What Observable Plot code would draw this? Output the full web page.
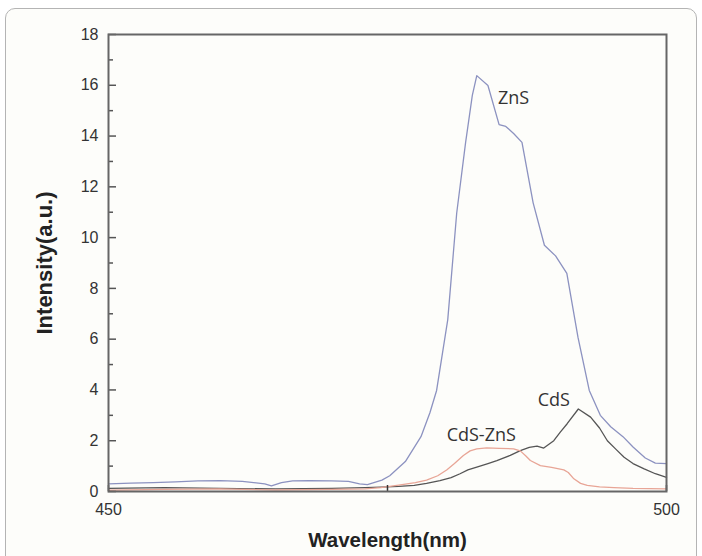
<!DOCTYPE html>
<html>
<head>
<meta charset="utf-8">
<script src="https://cdn.jsdelivr.net/npm/d3@7"></script>
<script src="https://cdn.jsdelivr.net/npm/@observablehq/plot@0.6"></script>
<style>
  html, body { margin: 0; padding: 0; background: #ffffff; }
  #wrap { position: relative; width: 702px; height: 556px; overflow: hidden; }
  #card { position: absolute; left: 5px; top: 8px; width: 690px; height: 570px;
          border: 1px solid #b4b4b4; border-radius: 10px; background: #fdfdfa; }
  #chart { position: absolute; left: 0; top: 0; }
</style>
</head>
<body>
<div id="wrap"><div id="card"></div><div id="chart"></div></div>
<script>
// ZnS
const znsNm  = [450, 452, 454, 456, 458, 460, 462, 464, 464.6, 465.5, 466.5, 468, 470, 471.5, 472.5, 473.2, 474.5, 475.2, 476.6, 478.0, 478.8, 479.4, 480.4, 481.2, 482.0, 482.6, 483.0, 484.0, 485.0, 485.6, 486.3, 487.05, 488.05, 489.06, 490.06, 491.07, 492.07, 493.08, 494.07, 495.0, 496.1, 497.0, 498.1, 499.0, 500];
const znsVal = [0.30, 0.33, 0.35, 0.38, 0.42, 0.43, 0.40, 0.30, 0.22, 0.35, 0.42, 0.43, 0.42, 0.40, 0.30, 0.27, 0.45, 0.62, 1.18, 2.16, 3.10, 3.98, 6.77, 10.96, 13.75, 15.6, 16.38, 15.99, 14.45, 14.38, 14.1, 13.75, 11.37, 9.70, 9.28, 8.59, 6.07, 3.98, 3.0, 2.55, 2.16, 1.75, 1.32, 1.12, 1.10];
// CdS
const cdsNm  = [450, 455, 460, 465, 470, 473, 474.4, 476, 477.4, 478.5, 479.7, 480.7, 481.5, 482.2, 483.0, 484.0, 484.8, 486.0, 486.9, 487.7, 488.4, 489.0, 489.9, 490.5, 491.1, 492.1, 493.2, 494.0, 494.7, 495.5, 496.2, 497.0, 498.0, 499.0, 500];
const cdsVal = [0.12, 0.15, 0.12, 0.10, 0.12, 0.15, 0.17, 0.20, 0.24, 0.32, 0.43, 0.55, 0.70, 0.85, 0.96, 1.10, 1.22, 1.42, 1.61, 1.74, 1.79, 1.71, 2.0, 2.35, 2.67, 3.25, 2.93, 2.5, 2.0, 1.65, 1.35, 1.10, 0.89, 0.70, 0.56];
// CdS-ZnS
const mixNm  = [450, 455, 460, 465, 470, 473, 474.4, 476, 477.5, 478.5, 479.5, 480.3, 481.0, 481.8, 482.4, 483.0, 483.9, 485.0, 486.3, 486.9, 487.4, 487.8, 488.7, 489.7, 490.8, 491.2, 491.7, 492.3, 492.9, 494.0, 495.3, 497.0, 500];
const mixVal = [0.05, 0.08, 0.10, 0.06, 0.08, 0.10, 0.15, 0.25, 0.35, 0.45, 0.62, 0.85, 1.10, 1.42, 1.60, 1.68, 1.72, 1.70, 1.68, 1.60, 1.40, 1.22, 1.02, 0.95, 0.85, 0.75, 0.50, 0.32, 0.24, 0.18, 0.15, 0.12, 0.10];

const seriesNames  = ["ZnS", "CdS", "CdS-ZnS"];
const seriesColors = ["#8c92c0", "#555555", "#e8a596"];
const labelNm  = [486.3, 489.9, 483.4];
const labelVal = [15.5, 3.6, 2.2];

const yMajor = [0, 2, 4, 6, 8, 10, 12, 14, 16, 18];
const yMinor = [1, 3, 5, 7, 9, 11, 13, 15, 17];
const xTicks = [450, 475, 500];
const xLabels = [450, 500];

const toRows = (nm, val, s) => nm.map((x, i) => ({x, y: val[i], s}));
const rows = [
  ...toRows(znsNm, znsVal, "ZnS"),
  ...toRows(cdsNm, cdsVal, "CdS"),
  ...toRows(mixNm, mixVal, "CdS-ZnS")
];
const labels = seriesNames.map((n, i) => ({n, x: labelNm[i], y: labelVal[i]}));

const chart = Plot.plot({
  width: 702, height: 556,
  marginLeft: 108, marginRight: 36, marginTop: 34, marginBottom: 65,
  style: {background: "transparent", fontFamily: "Liberation Sans, Arial, sans-serif", fontSize: "16px", color: "#333"},
  x: {domain: [450, 500]},
  y: {domain: [0, 18]},
  color: {domain: seriesNames, range: seriesColors},
  marks: [
    Plot.line(rows, {x: "x", y: "y", z: "s", stroke: "s", strokeWidth: 1.3}),
    Plot.text(labels, {x: "x", y: "y", text: "n", fontFamily: "Open Sans, sans-serif", fontSize: 18, fill: "#333"}),
    Plot.axisY({ticks: yMajor, tickSize: 0, tickPadding: 10, label: null}),
    Plot.axisY({ticks: yMajor, tickSize: -8, tickFormat: () => "", label: null, stroke: "#555", strokeWidth: 1.5}),
    Plot.axisY({ticks: yMinor, tickSize: -5, tickFormat: () => "", label: null, stroke: "#555", strokeWidth: 1.5}),
    Plot.axisX({ticks: xLabels, tickSize: 0, tickPadding: 12, label: null}),
    Plot.axisX({ticks: xTicks, tickSize: -6, tickFormat: () => "", label: null, stroke: "#333", strokeWidth: 1.5}),
    Plot.frame({stroke: "#666", strokeWidth: 2}),
    Plot.text(["Wavelength(nm)"], {frameAnchor: "bottom", lineAnchor: "middle", textAnchor: "middle", dy: 49, fontWeight: "bold", fontSize: 20.5, fill: "#222"}),
    Plot.text(["Intensity(a.u.)"], {frameAnchor: "left", lineAnchor: "middle", textAnchor: "middle", dx: -64, rotate: -90, fontWeight: "bold", fontSize: 22, fill: "#222"})
  ]
});
document.getElementById("chart").appendChild(chart);
</script>
</body>
</html>
